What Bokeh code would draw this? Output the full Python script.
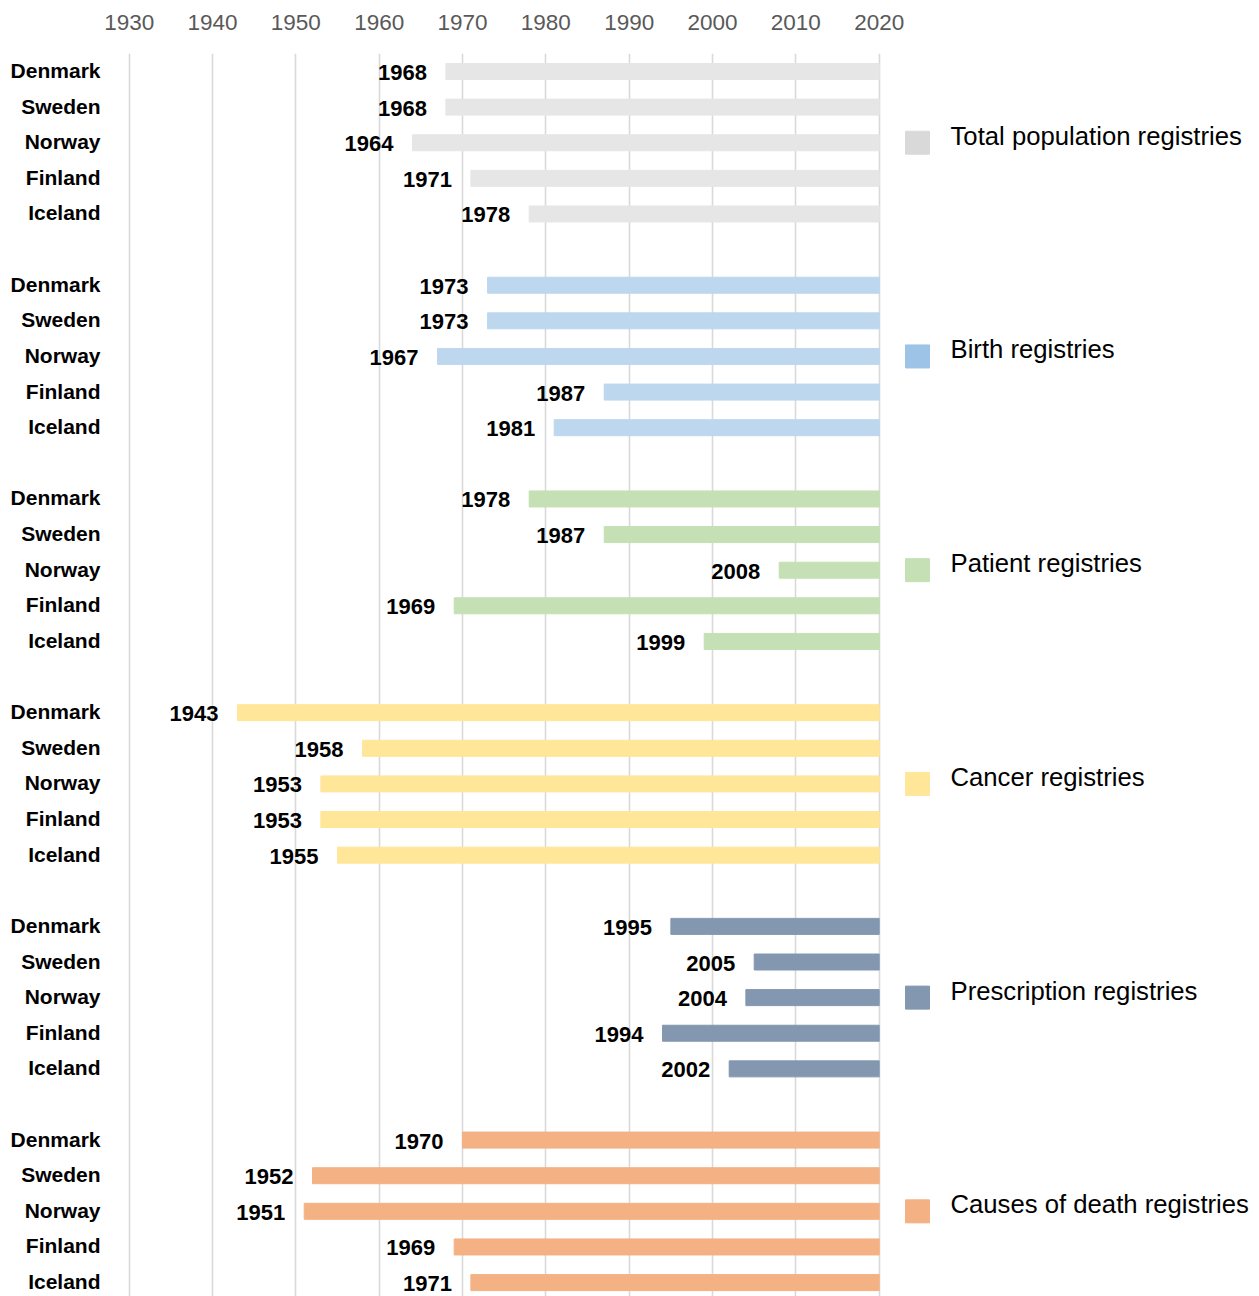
from bokeh.plotting import figure
from bokeh.models import Range1d, FixedTicker, ColumnDataSource
from bokeh.core.properties import value
from bokeh.embed import file_html
from bokeh.resources import INLINE

countries = ["Denmark", "Sweden", "Norway", "Finland", "Iceland"]
registries = ["Total population registries", "Birth registries", "Patient registries",
              "Cancer registries", "Prescription registries", "Causes of death registries"]
start_total = [1968, 1968, 1964, 1971, 1978]
start_birth = [1973, 1973, 1967, 1987, 1981]
start_patient = [1978, 1987, 2008, 1969, 1999]
start_cancer = [1943, 1958, 1953, 1953, 1955]
start_prescription = [1995, 2005, 2004, 1994, 2002]
start_death = [1970, 1952, 1951, 1969, 1971]
end_year = 2020
year_ticks = [1930, 1940, 1950, 1960, 1970, 1980, 1990, 2000, 2010, 2020]

bar_colors = ["#e6e6e6", "#bdd7ee", "#c5e0b4", "#ffe699", "#8497b0", "#f4b183"]
legend_colors = ["#d9d9d9", "#9dc3e6", "#c5e0b4", "#ffe699", "#8497b0", "#f4b183"]

starts = [start_total, start_birth, start_patient, start_cancer, start_prescription, start_death]

W, H = 1259, 1296
px_per_year = 250 / 30.0
x0_px = 128.7  # px of 1930
x_start = 1930 - x0_px / px_per_year
x_end = x_start + W / px_per_year

row_px = 35.62
frame_top = 53
row0_px = 71  # px of first row center
y_top = -(row0_px - frame_top) / row_px
y_bottom = y_top + (H - frame_top) / row_px

p = figure(width=W, height=H, output_backend="svg", toolbar_location=None,
           x_range=Range1d(x_start, x_end), y_range=Range1d(y_bottom, y_top),
           x_axis_location="above", min_border=0, min_border_top=frame_top,
           min_border_left=0, min_border_right=0, min_border_bottom=0)
p.outline_line_color = None
p.background_fill_color = "white"
p.border_fill_color = "white"

p.yaxis.visible = False
p.ygrid.visible = False
ax = p.xaxis[0]
ax.ticker = FixedTicker(ticks=year_ticks)
ax.axis_line_color = None
ax.major_tick_line_color = None
ax.minor_tick_line_color = None
ax.major_label_text_font = "Liberation Sans"
ax.major_label_text_font_size = "22.5px"
ax.major_label_text_color = "#595959"
ax.major_label_standoff = 18
p.xgrid.ticker = FixedTicker(ticks=year_ticks)
p.xgrid.grid_line_color = "#d9d9d9"
p.xgrid.grid_line_width = 1.6

rows, lefts, rights, colors, labels, names = [], [], [], [], [], []
for g, s in enumerate(starts):
    for i, yr in enumerate(s):
        rows.append(g * 6 + i)
        lefts.append(yr)
        rights.append(end_year)
        colors.append(bar_colors[g])
        labels.append(str(yr))
        names.append(countries[i])

src = ColumnDataSource(dict(y=rows, left=lefts, right=rights, color=colors,
                            label=labels, name=names,
                            namex=[x_start + 100 / px_per_year] * len(rows)))
p.hbar(y="y", left="left", right="right", height=16 / row_px, color="color", source=src)
p.text(x="left", y="y", text="label", source=src, text_align="right",
       text_baseline="middle", x_offset=-19, y_offset=1,
       text_font=value("Liberation Sans"), text_font_style="bold",
       text_font_size="22px", text_color="black")
p.text(x="namex", y="y", text="name", source=src, text_align="right",
       text_baseline="middle", y_offset=-1,
       text_font=value("Liberation Sans"), text_font_style="bold",
       text_font_size="21px", text_color="black")

lg_rows = [g * 6 + 2 for g in range(len(registries))]
lsrc = ColumnDataSource(dict(y=lg_rows, name=registries, color=legend_colors,
                             sx=[x_start + 917 / px_per_year] * len(lg_rows),
                             tx=[x_start + 950 / px_per_year] * len(lg_rows)))
p.rect(x="sx", y="y", width=24, height=23, width_units="screen", height_units="screen",
       color="color", source=lsrc, y_offset=-2) if False else None
p.rect(x="sx", y="y", width=24, height=23, width_units="screen", height_units="screen",
       color="color", source=lsrc)
p.text(x="tx", y="y", text="name", source=lsrc, text_align="left",
       text_baseline="middle", y_offset=-7,
       text_font=value("Liberation Sans"), text_font_size="25.7px", text_color="black")

open("out.html", "w").write(file_html(p, INLINE))
